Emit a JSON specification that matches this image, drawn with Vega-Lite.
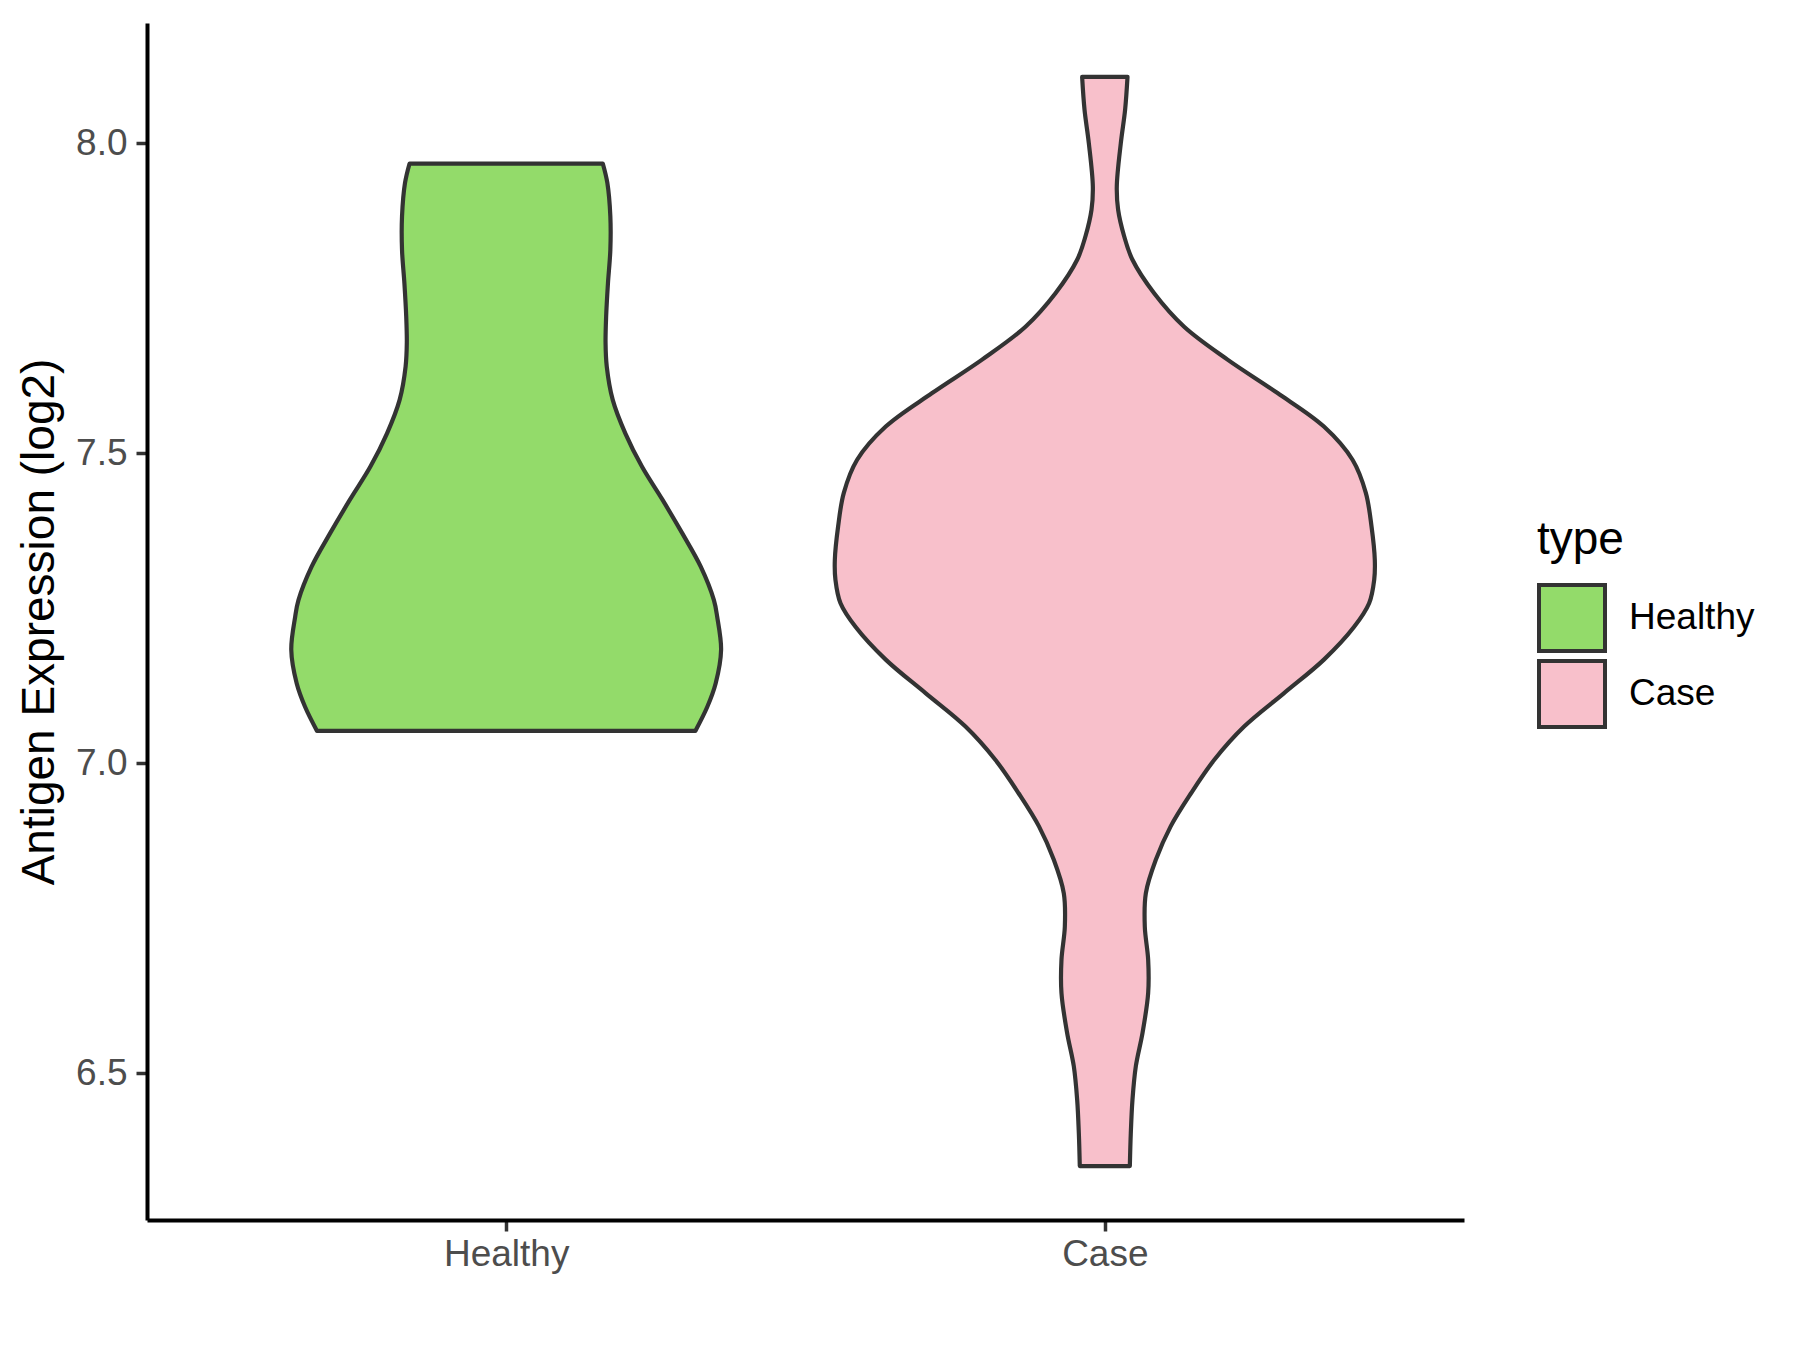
{
  "$schema": "https://vega.github.io/schema/vega-lite/v6.json",
  "autosize": "none",
  "width": 1317,
  "height": 1197,
  "padding": {"left": 147, "top": 23, "right": 336, "bottom": 130},
  "background": "white",
  "config": {
    "view": {"stroke": null},
    "font": "Liberation Sans"
  },
  "data": {
    "values": [
      {"type": "Healthy", "value": 7.052, "lo": 0.684, "hi": 1.316},
      {"type": "Healthy", "value": 7.091, "lo": 0.664, "hi": 1.336},
      {"type": "Healthy", "value": 7.129, "lo": 0.650, "hi": 1.350},
      {"type": "Healthy", "value": 7.183, "lo": 0.641, "hi": 1.359},
      {"type": "Healthy", "value": 7.236, "lo": 0.6475, "hi": 1.3525},
      {"type": "Healthy", "value": 7.263, "lo": 0.653, "hi": 1.347},
      {"type": "Healthy", "value": 7.317, "lo": 0.675, "hi": 1.325},
      {"type": "Healthy", "value": 7.371, "lo": 0.706, "hi": 1.294},
      {"type": "Healthy", "value": 7.425, "lo": 0.739, "hi": 1.261},
      {"type": "Healthy", "value": 7.478, "lo": 0.773, "hi": 1.227},
      {"type": "Healthy", "value": 7.532, "lo": 0.801, "hi": 1.199},
      {"type": "Healthy", "value": 7.586, "lo": 0.822, "hi": 1.178},
      {"type": "Healthy", "value": 7.640, "lo": 0.832, "hi": 1.168},
      {"type": "Healthy", "value": 7.678, "lo": 0.834, "hi": 1.166},
      {"type": "Healthy", "value": 7.721, "lo": 0.833, "hi": 1.167},
      {"type": "Healthy", "value": 7.774, "lo": 0.830, "hi": 1.170},
      {"type": "Healthy", "value": 7.828, "lo": 0.826, "hi": 1.174},
      {"type": "Healthy", "value": 7.882, "lo": 0.826, "hi": 1.174},
      {"type": "Healthy", "value": 7.936, "lo": 0.831, "hi": 1.169},
      {"type": "Healthy", "value": 7.967, "lo": 0.8385, "hi": 1.1615},
      {"type": "Case", "value": 6.350, "lo": 1.9582, "hi": 2.0418},
      {"type": "Case", "value": 6.403, "lo": 1.9566, "hi": 2.0434},
      {"type": "Case", "value": 6.457, "lo": 1.9538, "hi": 2.0462},
      {"type": "Case", "value": 6.511, "lo": 1.9482, "hi": 2.0518},
      {"type": "Case", "value": 6.565, "lo": 1.937, "hi": 2.063},
      {"type": "Case", "value": 6.629, "lo": 1.9276, "hi": 2.0724},
      {"type": "Case", "value": 6.683, "lo": 1.9276, "hi": 2.0724},
      {"type": "Case", "value": 6.736, "lo": 1.9332, "hi": 2.0668},
      {"type": "Case", "value": 6.790, "lo": 1.9315, "hi": 2.0685},
      {"type": "Case", "value": 6.844, "lo": 1.9148, "hi": 2.0852},
      {"type": "Case", "value": 6.898, "lo": 1.890, "hi": 2.110},
      {"type": "Case", "value": 6.951, "lo": 1.8563, "hi": 2.1437},
      {"type": "Case", "value": 7.005, "lo": 1.8174, "hi": 2.1826},
      {"type": "Case", "value": 7.059, "lo": 1.7673, "hi": 2.2327},
      {"type": "Case", "value": 7.113, "lo": 1.7005, "hi": 2.2995},
      {"type": "Case", "value": 7.167, "lo": 1.634, "hi": 2.366},
      {"type": "Case", "value": 7.220, "lo": 1.5835, "hi": 2.4165},
      {"type": "Case", "value": 7.258, "lo": 1.5585, "hi": 2.4415},
      {"type": "Case", "value": 7.296, "lo": 1.550, "hi": 2.450},
      {"type": "Case", "value": 7.328, "lo": 1.549, "hi": 2.451},
      {"type": "Case", "value": 7.382, "lo": 1.5545, "hi": 2.4455},
      {"type": "Case", "value": 7.436, "lo": 1.564, "hi": 2.436},
      {"type": "Case", "value": 7.489, "lo": 1.586, "hi": 2.414},
      {"type": "Case", "value": 7.543, "lo": 1.634, "hi": 2.366},
      {"type": "Case", "value": 7.597, "lo": 1.7115, "hi": 2.2885},
      {"type": "Case", "value": 7.651, "lo": 1.795, "hi": 2.205},
      {"type": "Case", "value": 7.704, "lo": 1.8675, "hi": 2.1325},
      {"type": "Case", "value": 7.758, "lo": 1.9176, "hi": 2.0824},
      {"type": "Case", "value": 7.812, "lo": 1.9538, "hi": 2.0462},
      {"type": "Case", "value": 7.850, "lo": 1.9677, "hi": 2.0323},
      {"type": "Case", "value": 7.893, "lo": 1.9778, "hi": 2.0222},
      {"type": "Case", "value": 7.930, "lo": 1.980, "hi": 2.020},
      {"type": "Case", "value": 8.000, "lo": 1.9733, "hi": 2.0267},
      {"type": "Case", "value": 8.054, "lo": 1.9661, "hi": 2.0339},
      {"type": "Case", "value": 8.107, "lo": 1.9621, "hi": 2.0379}
    ]
  },
  "mark": {
    "type": "area",
    "orient": "horizontal",
    "interpolate": "catmull-rom",
    "stroke": "#333333",
    "strokeWidth": 4.2,
    "strokeJoin": "round",
    "opacity": 1,
    "fillOpacity": 1
  },
  "encoding": {
    "y": {
      "field": "value",
      "type": "quantitative",
      "scale": {"domain": [6.263, 8.194], "nice": false, "zero": false},
      "axis": {
        "title": "Antigen Expression (log2)",
        "titleFontSize": 46,
        "titleFontWeight": "normal",
        "titleColor": "#000000",
        "titlePadding": 12,
        "values": [6.5, 7.0, 7.5, 8.0],
        "format": ".1f",
        "grid": false,
        "domainColor": "#000000",
        "domainWidth": 4,
        "tickColor": "#333333",
        "tickWidth": 3.5,
        "tickSize": 11,
        "labelFontSize": 37,
        "labelColor": "#4D4D4D",
        "labelPadding": 9
      }
    },
    "x": {
      "field": "lo",
      "type": "quantitative",
      "scale": {"domain": [0.4, 2.6], "nice": false, "zero": false},
      "axis": {
        "title": null,
        "values": [1, 2],
        "labelExpr": "datum.value == 1 ? 'Healthy' : 'Case'",
        "grid": false,
        "domainColor": "#000000",
        "domainWidth": 4,
        "tickColor": "#333333",
        "tickWidth": 3.5,
        "tickSize": 11,
        "labelFontSize": 37,
        "labelColor": "#4D4D4D",
        "labelPadding": 5,
        "labelFlush": false,
        "labelOverlap": false
      }
    },
    "x2": {"field": "hi"},
    "color": {
      "field": "type",
      "type": "nominal",
      "scale": {"domain": ["Healthy", "Case"], "range": ["#93DB6A", "#F8C0CB"]},
      "legend": {
        "title": "type",
        "orient": "none",
        "legendX": 1390,
        "legendY": 495,
        "titleFontSize": 46,
        "titleFontWeight": "normal",
        "titleColor": "#000000",
        "titlePadding": 19,
        "symbolType": "square",
        "symbolSize": 4356,
        "symbolStrokeColor": "#333333",
        "symbolStrokeWidth": 4,
        "symbolOpacity": 1,
        "labelFontSize": 37,
        "labelColor": "#000000",
        "labelOffset": 22,
        "rowPadding": -11
      }
    }
  }
}
